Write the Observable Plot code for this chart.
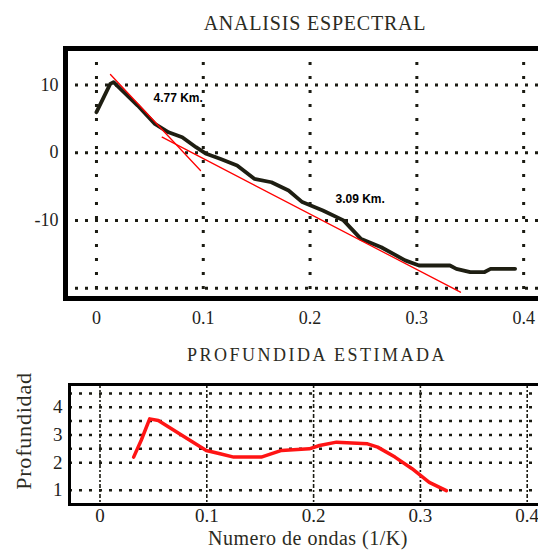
<!DOCTYPE html>
<html><head><meta charset="utf-8">
<script src="https://cdn.jsdelivr.net/npm/d3@7"></script>
<script src="https://cdn.jsdelivr.net/npm/@observablehq/plot@0.6"></script>
<style>
html,body{margin:0;padding:0;background:#fff;}
#wrap{position:relative;width:538px;height:552px;overflow:hidden;background:#fff;font-family:"Liberation Serif",serif;color:#2b2b22;}
#wrap svg{position:absolute;left:0;max-width:none !important;}
.t{position:absolute;white-space:nowrap;text-align:center;}
</style></head><body><div id="wrap"></div>
<script>
// ---- Data ----
// Top panel: spectrum (wavenumber vs log power)
const spectrumK = [0, 0.0129, 0.016, 0.0386, 0.0547, 0.0675, 0.0803, 0.0932, 0.1028, 0.1157, 0.1317, 0.1478, 0.1638, 0.1799, 0.1927, 0.212, 0.2313, 0.2474, 0.2666, 0.289, 0.302, 0.331, 0.337, 0.350, 0.363, 0.369, 0.392];
const spectrumP = [5.97, 10.15, 10.4, 6.95, 4.25, 3.0, 2.28, 0.8, -0.17, -0.91, -1.9, -3.86, -4.37, -5.59, -7.3, -8.54, -10.0, -12.7, -13.96, -15.9, -16.66, -16.66, -17.15, -17.65, -17.65, -17.15, -17.15];
// Fitted straight lines
const fit1K = [0.0131, 0.0974];
const fit1P = [11.53, -2.64];
const fit2K = [0.0615, 0.3408];
const fit2P = [2.28, -20.6];
// Fit annotations
const fitLabels = ["4.77 Km.", "3.09 Km."];
const fitLabelK = [0.0534, 0.2238];
const fitLabelP = [7.99, -6.92];
// Bottom panel: estimated depth
const depthK = [0.0315, 0.0385, 0.0465, 0.0546, 0.077, 0.0995, 0.1124, 0.1252, 0.151, 0.170, 0.196, 0.2055, 0.2215, 0.2505, 0.260, 0.2762, 0.2922, 0.3083, 0.3243];
const depthZ = [2.2, 2.8, 3.58, 3.52, 2.98, 2.44, 2.32, 2.2, 2.2, 2.44, 2.5, 2.62, 2.74, 2.68, 2.56, 2.2, 1.78, 1.29, 0.99];
// Ticks and grids
const xTicks = [0, 0.1, 0.2, 0.3, 0.4];
const yTicksTop = [10, 0, -10];
const yGridTop = [10, 0, -10, -20];
const yTicksBottom = [1, 2, 3, 4];
const yGridBottom = [1, 2, 2.5, 3, 3.5, 4, 4.5];
const titleTop = "ANALISIS ESPECTRAL";
const titleBottom = "PROFUNDIDA ESTIMADA";
const xLabel = "Numero de ondas (1/K)";
const yLabel = "Profundidad";

const wrap = document.getElementById("wrap");
const ink = "#1b1b12";
const fmt = d => String(d);

const spectrum = spectrumK.map((k, i) => ({k, p: spectrumP[i]}));
const fit1 = fit1K.map((k, i) => ({k, p: fit1P[i]}));
const fit2 = fit2K.map((k, i) => ({k, p: fit2P[i]}));
const notes = fitLabels.map((s, i) => ({s, k: fitLabelK[i], p: fitLabelP[i]}));
const depth = depthK.map((k, i) => ({k, z: depthZ[i]}));

const topPlot = Plot.plot({
  width: 580, height: 340,
  marginLeft: 65, marginRight: 20, marginTop: 48, marginBottom: 42,
  style: {fontFamily: "Liberation Serif, serif", fontSize: "18px", color: "#22221a", background: "transparent", maxWidth: "none"},
  x: {domain: [-0.0290, 0.4345], ticks: xTicks, tickSize: 0, tickPadding: 13, tickFormat: fmt, label: null},
  y: {domain: [-21.53, 15.37], ticks: yTicksTop, tickSize: 0, tickPadding: 7, tickFormat: fmt, label: null},
  marks: [
    Plot.ruleX(xTicks, {stroke: ink, strokeWidth: 3, strokeDasharray: "3,11"}),
    Plot.ruleY(yGridTop, {stroke: ink, strokeWidth: 3, strokeDasharray: "3,7"}),
    Plot.line(spectrum, {x: "k", y: "p", stroke: "#1e1e12", strokeWidth: 3.8}),
    Plot.line(fit1, {x: "k", y: "p", stroke: "#ff0000", strokeWidth: 1.3}),
    Plot.line(fit2, {x: "k", y: "p", stroke: "#ff0000", strokeWidth: 1.3}),
    Plot.text(notes, {x: "k", y: "p", text: "s", textAnchor: "start", lineAnchor: "middle", fontSize: 12, fontWeight: "bold", fontFamily: "Liberation Sans, Arial, sans-serif", fill: "#000"}),
    Plot.frame({stroke: "#000", strokeWidth: 5})
  ]
});
topPlot.style.top = "0px";
topPlot.style.width = "580px";
topPlot.style.height = "340px";
wrap.appendChild(topPlot);

const bottomPlot = Plot.plot({
  width: 580, height: 212,
  marginLeft: 69, marginRight: 20, marginTop: 44, marginBottom: 48,
  style: {fontFamily: "Liberation Serif, serif", fontSize: "19px", color: "#22221a", background: "transparent", maxWidth: "none"},
  x: {domain: [-0.02856, 0.43118], ticks: xTicks, tickSize: 0, tickPadding: 4, tickFormat: fmt, label: null},
  y: {domain: [0.489, 4.821], ticks: yTicksBottom, tickSize: 0, tickPadding: 7, tickFormat: fmt, label: null},
  marks: [
    Plot.ruleX(xTicks, {stroke: ink, strokeWidth: 1.6, strokeDasharray: "4,2,2,2"}),
    Plot.ruleY(yGridBottom, {stroke: ink, strokeWidth: 2.5, strokeDasharray: "3,7"}),
    Plot.line(depth, {x: "k", y: "z", stroke: "#ff1414", strokeWidth: 3.5}),
    Plot.frame({stroke: "#000", strokeWidth: 3})
  ]
});
bottomPlot.style.top = "340px";
bottomPlot.style.width = "580px";
bottomPlot.style.height = "212px";
wrap.appendChild(bottomPlot);

function addText(txt, css) {
  const d = document.createElement("div");
  d.className = "t";
  d.textContent = txt;
  Object.assign(d.style, css);
  wrap.appendChild(d);
}
addText(titleTop, {left: "115px", width: "400px", top: "13px", lineHeight: "20px", fontSize: "20px", letterSpacing: "0.8px"});
addText(titleBottom, {left: "117px", width: "400px", top: "345px", lineHeight: "20px", fontSize: "18px", letterSpacing: "2.5px"});
addText(xLabel, {left: "108px", width: "400px", top: "528px", lineHeight: "20px", fontSize: "20px", letterSpacing: "0.5px"});
addText(yLabel, {left: "-76px", width: "200px", top: "419px", lineHeight: "24px", fontSize: "22px", letterSpacing: "0.8px", transform: "rotate(-90deg)"});
</script>
</body></html>
